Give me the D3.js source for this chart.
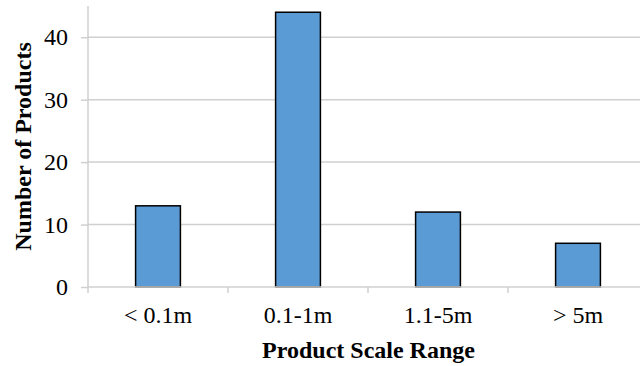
<!DOCTYPE html>
<html>
<head>
<meta charset="utf-8">
<script src="https://cdn.jsdelivr.net/npm/d3@7"></script>
<style>
  html, body { margin: 0; padding: 0; background: #fff; }
  svg { display: block; }
  svg text { font-family: "Liberation Serif", "Times New Roman", serif !important; fill: #000; }
</style>
</head>
<body>
<svg id="chart" width="640" height="366"></svg>
<script>
const categories = ["< 0.1m", "0.1-1m", "1.1-5m", "> 5m"];
const values = [13, 44, 12, 7];
const yTicks = [0, 10, 20, 30, 40];
const xTitle = "Product Scale Range";
const yTitle = "Number of Products";

(function () {
const svg = d3.select("#chart");
const pLeft = 88, pRight = 648, pTop = 6, pBottom = 287;

const x = d3.scaleBand().domain(categories).range([pLeft, pRight]).padding(0);
const y = d3.scaleLinear().domain([0, 45]).range([pBottom, pTop]);
const gridColor = "#d0d0d0";

// gridlines
svg.append("g").selectAll("line").data(yTicks.filter(d => d > 0)).join("line")
  .attr("x1", pLeft).attr("x2", 640)
  .attr("y1", d => y(d)).attr("y2", d => y(d))
  .attr("stroke", gridColor).attr("stroke-width", 1.5);

// bars
const bw = x.bandwidth() * 0.32;
svg.append("g").selectAll("rect").data(categories).join("rect")
  .attr("x", (d) => x(d) + x.bandwidth() / 2 - bw / 2)
  .attr("y", (d, i) => y(values[i]))
  .attr("width", bw)
  .attr("height", (d, i) => y(0) - y(values[i]))
  .attr("fill", "#5b9bd5")
  .attr("stroke", "#000").attr("stroke-width", 1.5);

// y axis
const yAxis = svg.append("g").attr("transform", `translate(${pLeft},0)`)
  .call(d3.axisLeft(y).tickValues(yTicks).tickSize(7).tickPadding(13));
yAxis.attr("font-family", null);
yAxis.select(".domain").attr("stroke", gridColor).attr("stroke-width", 1.5)
  .attr("d", `M0,${pTop}V${pBottom}`);
yAxis.selectAll(".tick line").attr("stroke", gridColor).attr("stroke-width", 1.5);
yAxis.selectAll("text").attr("font-size", 24);

// x axis
const xAxis = svg.append("g").attr("transform", `translate(0,${pBottom})`)
  .call(d3.axisBottom(x).tickSize(0).tickPadding(19));
xAxis.attr("font-family", null);
xAxis.select(".domain").attr("stroke", gridColor).attr("stroke-width", 1.5)
  .attr("d", `M${pLeft},0H640`);
xAxis.selectAll("text").attr("font-size", 24);
const bounds = categories.map(c => x(c)).concat([x(categories[categories.length - 1]) + x.bandwidth()]);
xAxis.append("g").selectAll("line").data(bounds).join("line")
  .attr("x1", d => d).attr("x2", d => d).attr("y1", 0).attr("y2", 6)
  .attr("stroke", gridColor).attr("stroke-width", 1.5);

// titles
svg.append("text").attr("x", 368.5).attr("y", 357.5)
  .attr("text-anchor", "middle").attr("font-weight", "bold")
  .attr("font-size", 24).text(xTitle);
svg.append("text").attr("transform", `translate(30.5,146.5) rotate(-90)`)
  .attr("text-anchor", "middle").attr("font-weight", "bold")
  .attr("font-size", 24).text(yTitle);
})();
</script>
</body>
</html>
